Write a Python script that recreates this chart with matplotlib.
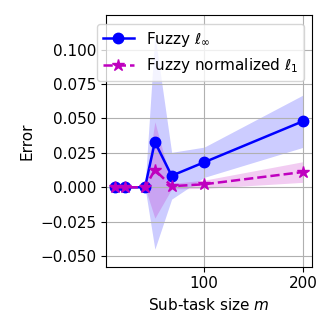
import matplotlib
matplotlib.use("Agg")
import matplotlib.pyplot as plt
import numpy as np

m = [10, 20, 40, 50, 67, 100, 200]
linf_mean = [0.0, 0.0, 0.0, 0.033, 0.0084, 0.0182, 0.048]
linf_std = [0.0, 0.0, 0.0, 0.078, 0.017, 0.011, 0.019]
l1_mean = [0.0, 0.0, 0.0, 0.0126, 0.0008, 0.0022, 0.0111]
l1_std = [0.0, 0.0, 0.0, 0.035, 0.002, 0.003, 0.0075]

plt.rcParams['font.size'] = 11

fig = plt.figure(figsize=(3.32, 3.32), dpi=100)
ax = fig.add_axes([106/332, 1-266.7/332, (312.3-106)/332, (266.7-15)/332])

x = np.array(m)
lm, ls = np.array(linf_mean), np.array(linf_std)
nm, ns = np.array(l1_mean), np.array(l1_std)

ax.plot(x, lm, 'o-', color='b', lw=1.8, ms=7.5, label=r'Fuzzy $\ell_\infty$')
ax.fill_between(x, lm - ls, lm + ls, color='b', alpha=0.2, lw=0)
ax.plot(x, nm, '*--', color='m', lw=1.8, ms=9, label=r'Fuzzy normalized $\ell_1$')
ax.fill_between(x, nm - ns, nm + ns, color='m', alpha=0.2, lw=0)

ax.set_xlim(0.5, 209.5)
ax.set_ylim(-0.0577, 0.1252)
ax.set_xticks([100, 200])
ax.set_yticks([-0.05, -0.025, 0.0, 0.025, 0.05, 0.075, 0.1])
ax.grid(True, color='#b0b0b0', lw=0.8)
ax.set_xlabel('Sub-task size $m$')
ax.set_ylabel('Error')
ax.legend(loc='upper left', bbox_to_anchor=(-0.044, 0.966), borderaxespad=0)

fig.savefig('out.png', dpi=100)
